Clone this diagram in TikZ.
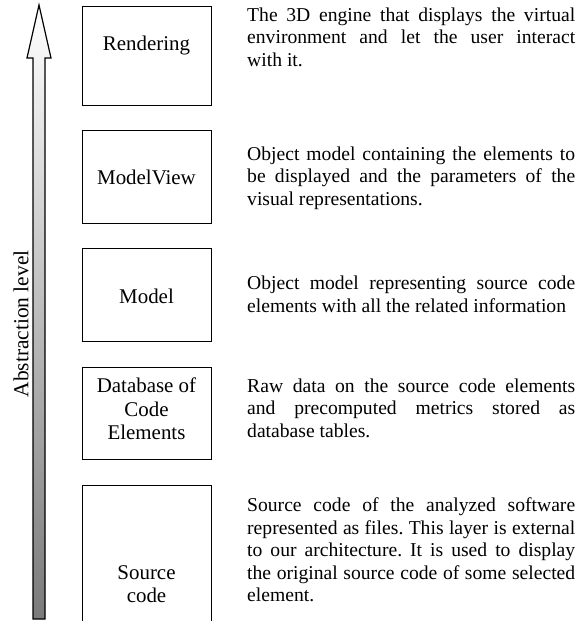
\documentclass[tikz,border=0pt]{standalone}
\usepackage{fontspec}
\setmainfont{Liberation Serif}
\begin{document}
\frenchspacing
\begin{tikzpicture}[x=1bp,y=-1bp,
  layerbox/.style={draw=black,line width=1.2bp,minimum width=129bp,inner sep=0pt,anchor=north west},
  layername/.style={font=\fontsize{21}{23.5}\selectfont,align=center,inner sep=0pt},
  layerdesc/.style={font=\fontsize{19.7}{22.6}\selectfont\frenchspacing,text width=328bp,align=justify,inner sep=0pt,anchor=west},
]
\useasboundingbox (0,0) rectangle (576,621);
\clip (0,0) rectangle (576,621);

% abstraction arrow
\draw[line width=1.2bp,top color=white,bottom color=black!52,shading angle=0]
  (33,619) -- (33,58) -- (27,58) -- (39,5) -- (51,58) -- (45,58) -- (45,619) -- cycle;
\node[rotate=90,font=\fontsize{21.5}{22}\selectfont,inner sep=0pt] (axis) at (21,324) {Abstraction level};

% layer boxes
\node[layerbox,minimum height=99bp] (render) at (82,6) {};
\node[layerbox,minimum height=93bp] (mview) at (82,130) {};
\node[layerbox,minimum height=93bp] (model) at (82,248) {};
\node[layerbox,minimum height=92bp] (db) at (82,367) {};
\node[layerbox,minimum height=198bp] (src) at (82,485) {};

% layer names
\node[layername] (renderT) at (146.5,46) {Rendering};
\node[layername] (mviewT) at (146.5,177) {ModelView};
\node[layername] (modelT) at (146.5,296) {Model};
\node[layername] (dbT) at (146.5,409) {Database of\\Code\\Elements};
\node[layername] (srcT) at (146.5,584) {Source\\code};

% layer descriptions
\node[layerdesc] (renderD) at (247,37) {The 3D engine that displays the virtual\linebreak environment and let the user interact\linebreak with it.};
\node[layerdesc] (mviewD) at (247,178) {Object model containing the elements to\linebreak be displayed and the parameters of the\linebreak visual representations.};
\node[layerdesc] (modelD) at (247,294.5) {Object model representing source code\linebreak elements with all the related information};
\node[layerdesc] (dbD) at (247,408) {Raw data on the source code elements\linebreak and precomputed metrics stored as\linebreak database tables.};
\node[layerdesc] (srcD) at (247,550) {Source code of the analyzed software\linebreak represented as files. This layer is external\linebreak to our architecture. It is used to display\linebreak the original source code of some selected\linebreak element.};
\end{tikzpicture}
\end{document}
